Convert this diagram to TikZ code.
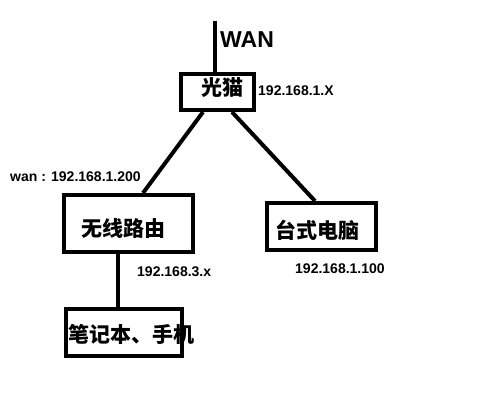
\documentclass[tikz,border=0pt]{standalone}
\usepackage{fontspec}
\setmainfont{Liberation Sans}
\newfontfamily\cjk{Noto Sans CJK SC}

\tikzset{
  box/.style={draw, line width=4pt, inner sep=0pt},
  cn/.style={inner sep=0pt, font=\cjk\bfseries\fontsize{21}{21}\selectfont},
  ip/.style={inner sep=0pt, anchor=west, font=\bfseries\fontsize{14}{14}\selectfont},
  link/.style={line width=4pt}
}

\begin{document}
\begin{tikzpicture}[x=1pt, y=-1pt]
    \useasboundingbox[fill=white] (0,0) rectangle (500,408);

    % 设备方框
    \node[box, minimum width=73, minimum height=36] (modem) at (217.5,92) {};
    \node[box, minimum width=129, minimum height=57] (router) at (128.5,223.5) {};
    \node[box, minimum width=109, minimum height=47] (desktop) at (321.5,226.5) {};
    \node[box, minimum width=116, minimum height=47] (laptop) at (124,332.5) {};

    % 设备名称
    \node[cn] (modemname) at (222.5,88) {光猫};
    \node[cn] (routername) at (123,228) {无线路由};
    \node[cn] (desktopname) at (317.5,230) {台式电脑};
    \node[cn] (laptopname) at (131.5,334) {笔记本、手机};

    % WAN 入口
    \coordinate (wantop) at (215,21);
    \node[anchor=west, inner sep=0pt, font=\bfseries\fontsize{23}{23}\selectfont] (wan) at (220,40) {WAN};
    \draw[link] (wantop) -- (wantop |- modem.north);

    % 连线
    \draw[link] ([xshift=-14.5]modem.south) -- ([xshift=14.5]router.north);
    \draw[link] ([xshift=14.5]modem.south) -- ([xshift=-6.5]desktop.north);
    \draw[link] ([xshift=-10.5]router.south) -- ([xshift=-10.5]router.south |- laptop.north);

    % IP 地址
    \node[ip] (modemip) at (258,90.5) {192.168.1.X};
    \node[ip] (wanip) at (10,177) {wan : 192.168.1.200};
    \node[ip] (lanip) at (137,271.5) {192.168.3.x};
    \node[ip] (desktopip) at (295,268.5) {192.168.1.100};
\end{tikzpicture}
\end{document}
